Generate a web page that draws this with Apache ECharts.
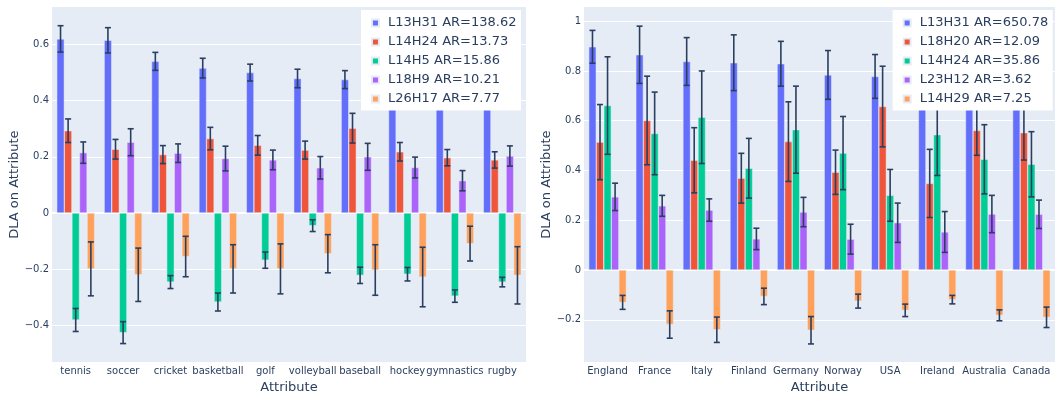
<!DOCTYPE html>
<html>
<head>
<meta charset="utf-8">
<script src="https://cdn.jsdelivr.net/npm/echarts@6/dist/echarts.min.js"></script>
<style>html,body{margin:0;padding:0;background:#fff;}#c{width:1055px;height:399px;}</style>
</head>
<body>
<div id="c"></div>
<script>
// ---- Left chart data ----
var leftCategories = ['tennis','soccer','cricket','basketball','golf','volleyball','baseball','hockey','gymnastics','rugby'];
var leftNames = ['L13H31 AR=138.62','L14H24 AR=13.73','L14H5 AR=15.86','L18H9 AR=10.21','L26H17 AR=7.77'];
var leftL13H31 = [0.620,0.615,0.540,0.516,0.500,0.479,0.475,0.460,0.450,0.440];
var leftL13H31Err = [0.047,0.045,0.032,0.035,0.030,0.033,0.032,0.033,0.030,0.030];
var leftL14H24 = [0.293,0.227,0.208,0.265,0.241,0.224,0.302,0.218,0.197,0.189];
var leftL14H24Err = [0.042,0.035,0.032,0.040,0.035,0.032,0.053,0.033,0.029,0.029];
var leftL14H5 = [-0.381,-0.426,-0.246,-0.317,-0.168,-0.045,-0.222,-0.218,-0.296,-0.246];
var leftL14H5Err = [0.041,0.039,0.023,0.032,0.029,0.021,0.029,0.024,0.022,0.017];
var leftL18H9 = [0.215,0.252,0.213,0.194,0.189,0.161,0.200,0.162,0.115,0.203];
var leftL18H9Err = [0.038,0.048,0.033,0.044,0.035,0.040,0.048,0.037,0.036,0.036];
var leftL26H17 = [-0.199,-0.220,-0.155,-0.199,-0.199,-0.145,-0.203,-0.228,-0.109,-0.222];
var leftL26H17Err = [0.096,0.095,0.072,0.086,0.089,0.068,0.090,0.106,0.062,0.102];

// ---- Right chart data ----
var rightCategories = ['England','France','Italy','Finland','Germany','Norway','USA','Ireland','Australia','Canada'];
var rightNames = ['L13H31 AR=650.78','L18H20 AR=12.09','L14H24 AR=35.86','L23H12 AR=3.62','L14H29 AR=7.25'];
var rightL13H31 = [0.897,0.865,0.838,0.833,0.829,0.784,0.778,0.770,0.760,0.760];
var rightL13H31Err = [0.066,0.115,0.096,0.112,0.090,0.098,0.088,0.090,0.090,0.090];
var rightL18H20 = [0.514,0.601,0.441,0.369,0.516,0.393,0.657,0.348,0.561,0.552];
var rightL18H20Err = [0.151,0.178,0.131,0.100,0.160,0.089,0.162,0.137,0.100,0.110];
var rightL14H24 = [0.661,0.549,0.614,0.409,0.564,0.470,0.300,0.544,0.445,0.425];
var rightL14H24Err = [0.196,0.166,0.186,0.120,0.175,0.147,0.104,0.164,0.139,0.131];
var rightL23H12 = [0.294,0.258,0.241,0.125,0.233,0.124,0.190,0.153,0.225,0.224];
var rightL23H12Err = [0.055,0.042,0.045,0.043,0.059,0.060,0.079,0.082,0.075,0.057];
var rightL14H29 = [-0.130,-0.219,-0.240,-0.106,-0.242,-0.125,-0.162,-0.119,-0.182,-0.190];
var rightL14H29Err = [0.028,0.055,0.051,0.033,0.055,0.028,0.025,0.017,0.022,0.041];

var leftTicks = [-0.4,-0.2,0,0.2,0.4,0.6];
var rightTicks = [-0.2,0,0.2,0.4,0.6,0.8,1];

var colors = ['#636EFA','#EF553B','#00CC96','#AB63FA','#FFA15A'];
var FONT = 'DejaVu Sans';
var TXT = '#2a3f5f';

var leftVals = [leftL13H31,leftL14H24,leftL14H5,leftL18H9,leftL26H17];
var leftErrs = [leftL13H31Err,leftL14H24Err,leftL14H5Err,leftL18H9Err,leftL26H17Err];
var rightVals = [rightL13H31,rightL18H20,rightL14H24,rightL23H12,rightL14H29];
var rightErrs = [rightL13H31Err,rightL18H20Err,rightL14H24Err,rightL23H12Err,rightL14H29Err];

function fmt(v){
  var r = parseFloat(v.toFixed(2));
  if (Math.abs(r) < 1e-9) return '0';
  return (r < 0 ? '\u2212' : '') + Math.abs(r);
}

function makeAxes(gi, cats, ticks, mn, mx){
  var x = {
    type:'category', gridIndex:gi, data:cats,
    axisLine:{show:false}, axisTick:{show:false},
    axisLabel:{interval:0, fontFamily:FONT, fontSize:10, color:TXT, margin:4, hideOverlap:false},
    name:'Attribute', nameLocation:'middle', nameGap:17,
    nameTextStyle:{fontFamily:FONT, fontSize:13, color:TXT},
    splitLine:{show:false}
  };
  var y = {
    type:'value', gridIndex:gi, min:mn, max:mx,
    axisLine:{show:false}, axisTick:{show:false},
    axisLabel:{fontFamily:FONT, fontSize:10, color:TXT, margin:3, formatter:fmt,
      customValues: ticks},
    splitLine:{show:false},
    name:'DLA on Attribute', nameLocation:'middle', nameGap:30,
    nameTextStyle:{fontFamily:FONT, fontSize:13, color:TXT}
  };
  return [x,y];
}

var la = makeAxes(0, leftCategories, leftTicks, -0.531, 0.7336);
var ra = makeAxes(1, rightCategories, rightTicks, -0.370, 1.057);

function gridLines(ticks){
  return ticks.map(function(t){
    return {yAxis:t, lineStyle:{color:'#ffffff', width: (t===0 ? 2 : 1), type:'solid'}};
  });
}

var series = [];
function addSeries(gi, names, vals, errs, ticks){
  for (var k=0;k<5;k++){
    var s = {
      type:'bar', name:names[k], xAxisIndex:gi, yAxisIndex:gi,
      data: vals[k], barGap:'0%', barCategoryGap:'20%',
      itemStyle:{color:colors[k], borderColor:'#E5ECF6', borderWidth:0.5},
      emphasis:{disabled:true}, z:2
    };
    if (k===0){
      s.markLine = {silent:true, symbol:['none','none'], z:1, label:{show:false},
        lineStyle:{color:'#ffffff', width:1, type:'solid'}, data:gridLines(ticks), animation:false,
        emphasis:{disabled:true}};
    }
    series.push(s);
    var ed = vals[k].map(function(v,i){ return [i, v - errs[k][i], v + errs[k][i]]; });
    (function(kk){
      series.push({
        type:'custom', xAxisIndex:gi, yAxisIndex:gi, data: ed, z:3, silent:true,
        encode:{x:0, y:[1,2]},
        renderItem:function(params, api){
          var ci = api.value(0);
          var lo = api.coord([ci, api.value(1)]);
          var hi = api.coord([ci, api.value(2)]);
          var band = api.size([1,0])[0];
          var bw = band*0.8/5;
          var cx = lo[0] + (kk-2)*bw;
          var hw = 3;
          var st = {stroke:'#2a3f5f', lineWidth:1.6, fill:null};
          return {type:'group', children:[
            {type:'line', shape:{x1:cx, y1:lo[1], x2:cx, y2:hi[1]}, style:st},
            {type:'line', shape:{x1:cx-hw, y1:lo[1], x2:cx+hw, y2:lo[1]}, style:st},
            {type:'line', shape:{x1:cx-hw, y1:hi[1], x2:cx+hw, y2:hi[1]}, style:st}
          ]};
        }
      });
    })(k);
  }
}
addSeries(0, leftNames, leftVals, leftErrs, leftTicks);
addSeries(1, rightNames, rightVals, rightErrs, rightTicks);

function legend(names, right){
  return {
    data:names, orient:'vertical', right:right, top:10,
    backgroundColor:'#ffffff', padding:[3.5,4.5,2,10],
    itemGap:0, itemWidth:7, itemHeight:7, icon:'rect',
    selectedMode:false,
    textStyle:{fontFamily:FONT, fontSize:13, color:TXT, lineHeight:19, padding:[0,0,0,4]}
  };
}

var chart = echarts.init(document.getElementById('c'), null, {renderer:'canvas'});
chart.setOption({
  animation:false,
  grid:[
    {left:52, top:7, width:474, height:356, show:true, backgroundColor:'#E5ECF6', borderWidth:0},
    {left:584, top:7, width:471, height:356, show:true, backgroundColor:'#E5ECF6', borderWidth:0}
  ],
  xAxis:[la[0], ra[0]],
  yAxis:[la[1], ra[1]],
  legend:[legend(leftNames, 534), legend(rightNames, 2.3)],
  series:series
});
</script>
</body>
</html>
